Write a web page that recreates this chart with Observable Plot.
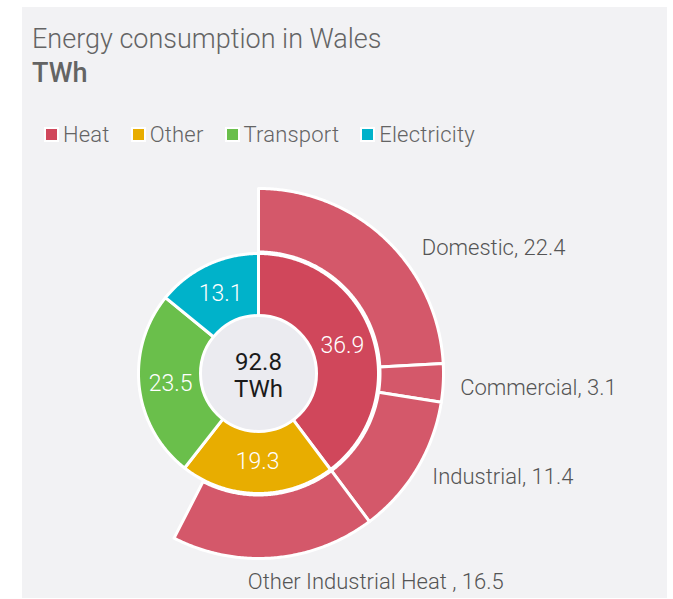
<!DOCTYPE html>
<html>
<head>
<meta charset="utf-8">
<script src="https://cdn.jsdelivr.net/npm/d3@7"></script>
<script src="https://cdn.jsdelivr.net/npm/@observablehq/plot@0.6"></script>
<style>
  html, body { margin: 0; padding: 0; background: #ffffff; width: 673px; height: 599px; overflow: hidden; }
  body { position: relative; font-family: Roboto, "Liberation Sans", sans-serif; }
  #card { position: absolute; left: 22px; top: 7px; width: 645px; height: 591px; background: #f2f2f4; }
  .title { position: absolute; left: 32px; font-size: 27px; line-height: 32.4px; color: #646464; white-space: nowrap; }
  #t1 { top: 22.5px; font-weight: 300; }
  #t2 { top: 56.5px; font-weight: 500; }
  #legend { position: absolute; left: 44px; top: 121.5px; display: flex; align-items: center; font-size: 22px; line-height: 26.4px; font-weight: 300; color: #646464; letter-spacing: 0.2px; }
  .item { display: flex; align-items: center; margin-right: 21px; }
  .sw { width: 11px; height: 11px; border: 2.5px solid #fff; margin-right: 4px; }
  #chart { position: absolute; left: 0; top: 160px; }
</style>
</head>
<body>
<div id="card"></div>
<div class="title" id="t1">Energy consumption in Wales</div>
<div class="title" id="t2">TWh</div>
<div id="legend"></div>
<div id="chart"></div>
<script>
// ---- data ----
const categories = ["Heat", "Other", "Transport", "Electricity"];
const values = [36.9, 19.3, 23.5, 13.1];
const colors = ["#d0475b", "#e8ad00", "#6abf4b", "#00b2ca"];
const heatParts = ["Domestic", "Commercial", "Industrial", "Other Industrial Heat "];
const heatValues = [22.4, 3.1, 11.4, 16.5];
const centerLabel = ["92.8", "TWh"];

// ---- geometry helpers ----
const total = d3.sum(values);
const toDeg = v => v / total * 360;
const rad = a => a * Math.PI / 180;
const px = (r, a) => r * Math.sin(rad(a));
const py = (r, a) => r * Math.cos(rad(a));

function sector(key, cat, a0, a1, r0, r1) {
  const pts = [];
  const n = Math.max(2, Math.ceil((a1 - a0) / 0.5));
  for (let i = 0; i <= n; i++) { const a = a0 + (a1 - a0) * i / n; pts.push({key, cat, x: px(r1, a), y: py(r1, a)}); }
  for (let i = n; i >= 0; i--) { const a = a0 + (a1 - a0) * i / n; pts.push({key, cat, x: px(r0, a), y: py(r0, a)}); }
  return pts;
}

const R0 = 57, R1 = 120, R2 = 121.5, R3 = 185;

// inner ring
let acc = 0;
const inner = [], innerLabels = [];
categories.forEach((c, i) => {
  const a0 = toDeg(acc), a1 = toDeg(acc + values[i]);
  inner.push(...sector(c, c, a0, a1, R0, R1));
  const m = (a0 + a1) / 2, r = (R0 + R1) / 2;
  innerLabels.push({x: px(r, m), y: py(r, m), text: String(values[i])});
  acc += values[i];
});

// outer ring (breakdown of heat)
acc = 0;
const outer = [], outerLabels = [];
const nudge = [[23, 23], [-2, 4], [-1, -2], [100, 5]];
heatParts.forEach((p, i) => {
  const a0 = toDeg(acc), a1 = toDeg(acc + heatValues[i]);
  outer.push(...sector(p, "Heat", a0, a1, R2, R3));
  const m = (a0 + a1) / 2, r = 204;
  outerLabels.push({x: px(r, m) + nudge[i][0], y: py(r, m) - nudge[i][1], text: p + ", " + heatValues[i], anchor: i === 3 ? "middle" : "start"});
  acc += heatValues[i];
});

// ---- legend ----
const legend = document.getElementById("legend");
categories.forEach((c, i) => {
  const it = document.createElement("div"); it.className = "item";
  const sw = document.createElement("div"); sw.className = "sw"; sw.style.background = colors[i];
  const tx = document.createElement("span"); tx.textContent = c;
  it.appendChild(sw); it.appendChild(tx); legend.appendChild(it);
});

// ---- chart ----
const W = 673, H = 439, cx = 258, cy = 213;
const chart = Plot.plot({
  width: W, height: H, margin: 0,
  x: {domain: [-cx, W - cx], axis: null},
  y: {domain: [-(H - cy), cy], axis: null},
  color: {domain: categories, range: colors},
  style: {background: "transparent", fontFamily: "Roboto, 'Liberation Sans', sans-serif", overflow: "visible"},
  marks: [
    Plot.line(outer, {x: "x", y: "y", z: "key", fill: "cat", fillOpacity: 0.9, stroke: "white", strokeWidth: 3, curve: "linear-closed"}),
    Plot.line(inner, {x: "x", y: "y", z: "key", fill: "cat", stroke: "white", strokeWidth: 3, curve: "linear-closed"}),
    Plot.dot([{x: 0, y: 0}], {x: "x", y: "y", r: R0 + 1, fill: "#ebebf0", stroke: "white", strokeWidth: 3}),
    Plot.text(innerLabels, {x: "x", y: "y", text: "text", fill: "white", fontSize: 23, fontWeight: 300}),
    Plot.text([centerLabel.join("\n")], {x: () => 0, y: () => 0, text: d => d, fill: "#1a1a1a", fontSize: 24, lineHeight: 1.13, fontWeight: 400, dy: 1}),
    Plot.text(outerLabels.filter(d => d.anchor === "start"), {x: "x", y: "y", text: "text", textAnchor: "start", fill: "#555", fontSize: 22, fontWeight: 300}),
    Plot.text(outerLabels.filter(d => d.anchor === "middle"), {x: "x", y: "y", text: "text", textAnchor: "middle", fill: "#555", fontSize: 22, fontWeight: 300})
  ]
});
chart.style.background = "transparent";
document.getElementById("chart").appendChild(chart);
</script>
</body>
</html>
